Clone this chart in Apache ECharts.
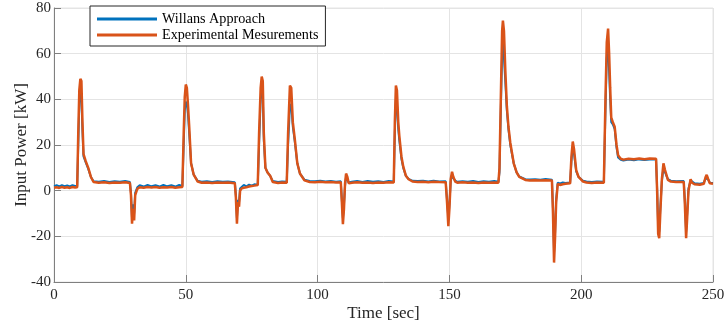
<!DOCTYPE html>
<html>
<head>
<meta charset="utf-8">
<script src="https://cdn.jsdelivr.net/npm/echarts@6/dist/echarts.min.js"></script>
<style>html,body{margin:0;padding:0;background:#fff}#c{width:726px;height:329px}</style>
</head>
<body>
<div id="c"></div>
<script>
// Time axis [sec]
var times = [
  0,1,2,3,4,5,6,7,8,8.8,
  9.2,9.6,10,10.4,10.8,11.2,12,13,14,15,
  17,19,21,23,25,27,28.8,
  29.2,29.6,30,30.4,30.8,31.6,
  32.5,34,35.5,37,38.5,40,41.5,43,44.5,46,47.5,48.7,
  49.2,49.6,50,50.4,50.8,51.3,52,53,54.5,
  56,58,60,62,64,66,68.6,
  69,69.4,69.8,70.2,70.6,71.2,
  72,73,74,75,76,77.3,
  77.8,78.4,78.8,79.2,79.6,80.2,81,82,83,
  85,86.5,88.3,
  88.8,89.5,90,90.6,91.4,92.3,93.3,95,
  97,99,101,103,105,107,108.8,
  109.2,109.6,110,110.4,110.8,111.3,111.8,
  113,115,117,119,121,123,125,127,128.9,
  129.3,129.7,130.1,130.6,131,131.8,132.5,133.5,134.5,136,
  138,140,142,144,146,148.6,
  149.1,149.6,150,150.5,151,151.5,152.2,153,
  155,157,159,161,163,165,167,168.6,
  169,169.5,170,170.3,170.7,171.2,171.8,172.4,173.1,174.4,175.5,176.5,178.8,
  180.5,182.5,184.5,186.5,188.9,
  189.3,189.7,190.1,190.5,191.1,
  192,193,194,195.8,
  196.3,196.8,197.3,198.1,199,200.7,
  202,204,206,208.6,
  209.2,209.7,210.2,210.6,211,211.4,212,212.7,213.4,214,215,
  216,218,220,222,224,226,228.4,
  228.8,229.2,229.6,230,230.6,231.2,231.8,232.9,
  234,236,238.9,
  239.3,239.8,240.2,240.7,241.5,242,243,
  245,246.5,247.2,247.6,248.2,248.8,250
];
// Experimental Mesurements [kW]
var measured = [
  1.3,1.5,1.2,1.6,1.3,1.5,1.2,1.6,1.4,1.5,
  25,44,49,48,30,16,13,10,6,3.8,
  3.5,3.7,3.4,3.6,3.5,3.7,3.4,
  -2,-14.5,-8,-13,-2,0.8,
  1.5,1.3,1.6,1.4,1.6,1.3,1.5,1.4,1.6,1.3,1.5,1.6,
  25,41,46.5,45,38,28,12,7,4,
  3.5,3.6,3.4,3.6,3.5,3.6,3.3,
  -3,-14.5,-5,-7,0,1,
  1.3,1.5,1.8,2,2.2,2.5,
  25,45,50,48,25,10,8,6.5,3.8,
  3.4,3.6,3.5,
  25,46,45,30,22,12,7.5,4.5,
  3.8,3.7,3.9,3.7,3.8,3.6,3.7,
  -5,-14.7,-8,3,7.5,6,3.2,
  3.5,3.7,3.5,3.6,3.4,3.6,3.5,3.7,3.6,
  30,46,44,30,24,15,10.5,6.5,5,4,
  3.8,3.9,3.7,3.9,3.8,3.7,
  -5,-15.5,-8,5,8.3,6,4,3.5,
  3.7,3.5,3.6,3.4,3.6,3.5,3.6,3.5,
  10,40,70,74.5,70,53,37,28,21,12,8,6,4.7,
  4.5,4.6,4.4,4.6,4.4,
  -10,-31.5,-20,-5,3,
  2.5,2.8,3,3.2,
  15,21.5,18,9,6,4,
  3.6,3.4,3.6,3.5,
  40,65,71,60,45,32,30,28,20,15.5,14,
  13.6,14,13.8,14.1,13.8,14.1,14,
  0,-19,-20.8,-10,5,12,9,4.7,
  4,3.8,3.8,
  -5,-20.8,-12,0,5,3.5,2.8,
  2.6,3,6,6.9,5,3.2,3
];
// Willans Approach [kW]
var willans = [
  2.0,2.4,1.9,2.4,2.0,2.3,1.9,2.4,2.1,2.2,
  20,38,44,40,26,15,12.5,9.5,6,4.1,
  3.9,4.2,3.8,4.1,3.9,4.2,3.8,
  -1,-12,-6,-10,-1,1.5,
  2.4,1.8,2.5,1.9,2.4,1.8,2.5,1.9,2.4,1.8,2.5,2.1,
  20,35,39,38,34,25,12,7,4.3,
  3.9,4.1,3.8,4.1,3.9,4.0,3.7,
  -2,-12,-4,-5,1,1.8,
  2.5,1.9,2.6,2.2,2.8,2.6,
  20,40,44,42,22,10,8,6.5,4.2,
  3.8,4.0,3.9,
  20,37,38,28,21,12,7.5,4.8,
  4.2,4.1,4.3,4.0,4.2,3.9,4.1,
  -4,-12,-6,2,6,5.5,3.6,
  3.9,4.2,3.8,4.2,3.9,4.1,3.8,4.2,4.0,
  25,40,38,27,22,14,10,6.5,5.2,4.3,
  4.2,4.3,4.0,4.4,4.0,4.1,
  -4,-12,-6,4,7,5.5,4.4,3.9,
  4.1,3.9,4.2,3.8,4.1,3.9,4.2,3.9,
  8,35,60,65,58,48,35,27,20,12,8,6.2,5,
  4.9,5.0,4.8,5.1,4.8,
  -8,-27,-18,-4,3.5,
  3.2,3.6,3.4,3.6,
  13,19,16,8.5,6,4.3,
  4.0,3.8,4.0,3.9,
  35,58,63,52,40,30,29,27,19,14.5,13.5,
  13.2,13.6,13.3,13.7,13.4,13.6,13.6,
  1,-16,-18,-8,4,10,8,5,
  4.4,4.1,4.2,
  -4,-18,-10,1,4.5,3.8,3.2,
  3.0,3.4,5.5,6.3,4.8,3.5,3.4
];
var seriesNames = ['Willans Approach', 'Experimental Mesurements'];
var xTicks = {min: 0, max: 250, step: 50};
var yTicks = {min: -40, max: 80, step: 20};

function pairs(vals) { return times.map(function (t, i) { return [t, vals[i]]; }); }

var font = 'Liberation Serif, Times New Roman, serif';
var axisCol = '#7f7f7f';
var chart = echarts.init(document.getElementById('c'), null, {renderer: 'canvas'});
chart.setOption({
  animation: false,
  backgroundColor: '#fff',
  grid: {left: 54, right: 13, top: 8, bottom: 47, show: true, borderColor: '#e4e4e4', borderWidth: 1,
         backgroundColor: 'transparent', containLabel: false, outerBoundsMode: 'none'},
  legend: {
    orient: 'vertical', left: 90, top: 6,
    data: seriesNames,
    icon: 'rect', itemWidth: 60, itemHeight: 3, itemGap: 0,
    padding: [5, 7, 3, 7],
    borderColor: '#262626', borderWidth: 1, backgroundColor: '#fff',
    textStyle: {fontFamily: font, fontSize: 14.2, color: '#000', lineHeight: 16}
  },
  xAxis: {
    type: 'value', min: xTicks.min, max: xTicks.max, interval: xTicks.step,
    name: 'Time [sec]', nameLocation: 'middle', nameGap: 23, nameMoveOverlap: false,
    nameTextStyle: {fontFamily: font, fontSize: 17, color: '#262626'},
    axisLine: {show: true, onZero: false, lineStyle: {color: axisCol, width: 1}},
    axisTick: {show: true, inside: true, length: 7, lineStyle: {color: axisCol}},
    axisLabel: {fontFamily: font, fontSize: 15, color: '#262626', margin: 6},
    splitLine: {show: true, lineStyle: {color: '#e4e4e4', width: 1}}
  },
  yAxis: {
    type: 'value', min: yTicks.min, max: yTicks.max, interval: yTicks.step,
    name: 'Input Power [kW]', nameLocation: 'middle', nameGap: 24, nameMoveOverlap: false,
    nameTextStyle: {fontFamily: font, fontSize: 17, color: '#262626'},
    axisLine: {show: true, onZero: false, lineStyle: {color: axisCol, width: 1}},
    axisTick: {show: true, inside: true, length: 7, lineStyle: {color: axisCol}},
    axisLabel: {fontFamily: font, fontSize: 15, color: '#262626', margin: 3},
    splitLine: {show: true, lineStyle: {color: '#e4e4e4', width: 1}}
  },
  series: [
    {name: seriesNames[0], type: 'line', data: pairs(willans), showSymbol: false, color: '#0072BD',
     lineStyle: {color: '#0072BD', width: 2}, z: 3},
    {name: seriesNames[1], type: 'line', data: pairs(measured), showSymbol: false, color: '#D95319',
     lineStyle: {color: '#D95319', width: 2.5}, z: 4}
  ]
});
</script>
</body>
</html>
